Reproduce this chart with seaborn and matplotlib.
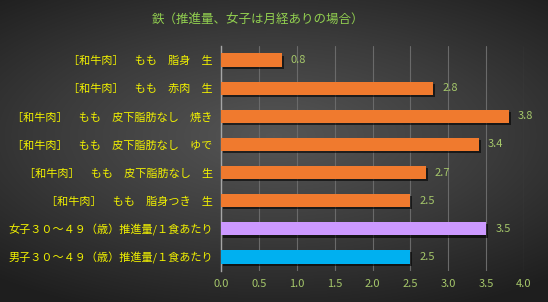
import numpy as np
import pandas as pd
import matplotlib
matplotlib.use('Agg')
import matplotlib.pyplot as plt
import matplotlib.patheffects as pe
import seaborn as sns

# データ
labels = [
    '［和牛肉］　もも　脂身　生',
    '［和牛肉］　もも　赤肉　生',
    '［和牛肉］　もも　皮下脂肪なし　焼き',
    '［和牛肉］　もも　皮下脂肪なし　ゆで',
    '［和牛肉］　もも　皮下脂肪なし　生',
    '［和牛肉］　もも　脂身つき　生',
    '女子３０～４９（歳）推進量/１食あたり',
    '男子３０～４９（歳）推進量/１食あたり',
]
values = [0.8, 2.8, 3.8, 3.4, 2.7, 2.5, 3.5, 2.5]
bar_colors = ['#F07A2E'] * 6 + ['#CC99FF', '#00B0F0']
title = '鉄（推進量、女子は月経ありの場合）'

df = pd.DataFrame({'label': labels, 'value': values})

sns.set_style('white')
plt.rcParams['font.family'] = ['Noto Sans CJK JP', 'DejaVu Sans']

fig = plt.figure(figsize=(5.48, 3.02), dpi=100)

# 背景グラデーション
bg = fig.add_axes([0, 0, 1, 1], zorder=0)
yy, xx = np.mgrid[-1:1:302j, -1:1:548j]
r = np.sqrt((xx * 0.9) ** 2 + ((yy + 0.1) * 1.1) ** 2)
bg.imshow(np.clip(r, 0, 1.4), cmap=matplotlib.colors.LinearSegmentedColormap.from_list(
    'bg', ['#565656', '#3c3c3c', '#1e1e1e']), aspect='auto', vmin=0, vmax=1.4)
bg.axis('off')

ax = fig.add_axes([0.4033, 0.1026, 0.553, 0.745], zorder=1)
ax.patch.set_alpha(0)
sns.barplot(data=df, x='value', y='label', hue='label', palette=bar_colors,
            legend=False, width=0.47, saturation=1, linewidth=0, ax=ax, zorder=3)
for p in ax.patches:
    p.set_path_effects([pe.SimplePatchShadow(offset=(1.5, -1.5), shadow_rgbFace='black', alpha=0.6), pe.Normal()])

ax.set_xlim(0, 4.0)
ax.set_xticks(np.arange(0, 4.01, 0.5))
ax.set_xticklabels([f'{t:.1f}' for t in np.arange(0, 4.01, 0.5)])
ax.xaxis.grid(True, color='#6a6a6a', linewidth=0.8, zorder=0)
ax.yaxis.grid(False)
ax.set_xlabel('')
ax.set_ylabel('')
for s in ['top', 'right', 'bottom']:
    ax.spines[s].set_visible(False)
ax.spines['left'].set_color('#a6a6a6')
ax.spines['left'].set_linewidth(1.0)
ax.tick_params(axis='x', colors='#A5C76A', labelsize=8, length=0, pad=6)
ax.tick_params(axis='y', colors='#F2F200', labelsize=8, length=0, pad=6)

# 値ラベル
for i, v in enumerate(values):
    ax.text(v + 0.12, i, f'{v:.1f}', va='center', ha='left', fontsize=8, color='#A5C76A')

fig.text(0.47, 0.934, title, ha='center', va='center', fontsize=9, color='#92D050')

fig.savefig('out.png', dpi=100)
